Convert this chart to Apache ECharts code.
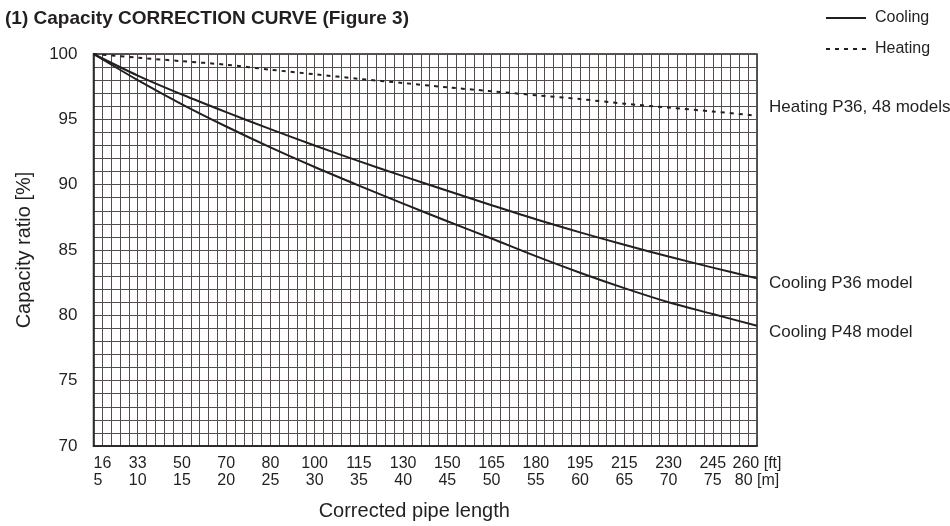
<!DOCTYPE html>
<html>
<head>
<meta charset="utf-8">
<script src="https://cdn.jsdelivr.net/npm/echarts@6/dist/echarts.min.js"></script>
<style>html,body{margin:0;padding:0;background:#fff}#c{width:950px;height:526px}</style>
</head>
<body>
<div id="c"></div>
<script>
// ---- data ----
const lengthM = [5, 10, 15, 20, 25, 30, 35, 40, 45, 50, 55, 60, 65, 70, 75, 80];
const lengthFt = ['16', '33', '50', '70', '80', '100', '115', '130', '150', '165', '180', '195', '215', '230', '245', '260'];
const coolingP36 = [100, 98.35, 96.9, 95.55, 94.25, 93.0, 91.8, 90.65, 89.53, 88.43, 87.35, 86.35, 85.4, 84.5, 83.65, 82.83];
const coolingP48 = [100, 98.0, 96.15, 94.45, 92.85, 91.35, 89.93, 88.55, 87.2, 85.88, 84.53, 83.26, 82.08, 81.0, 80.1, 79.2];
const heating = [100, 99.72, 99.45, 99.18, 98.8, 98.45, 98.1, 97.78, 97.45, 97.15, 96.85, 96.55, 96.2, 95.9, 95.6, 95.28];
const seriesLabels = ['Cooling P36 model', 'Cooling P48 model', 'Heating P36, 48 models'];
const titleText = '(1) Capacity CORRECTION CURVE (Figure 3)';

const INK = '#231f20';
const GRIDC = '#554c4c';
const FONT = '"Liberation Sans", Arial, Helvetica, sans-serif';

function pairs(ys) { return lengthM.map((x, i) => [x, ys[i]]); }

const chart = echarts.init(document.getElementById('c'), null, { renderer: 'canvas' });
chart.setOption({
  animation: false,
  backgroundColor: '#fff',
  textStyle: { fontFamily: FONT, color: INK },
  title: {
    text: titleText, left: 0, top: 4,
    textStyle: { fontFamily: FONT, fontSize: 19, fontWeight: 'bold', color: INK }
  },
  legend: {
    orient: 'vertical', left: 820, top: 5,
    itemWidth: 40, itemHeight: 14, itemGap: 15,
    data: ['Cooling', 'Heating'],
    itemStyle: { opacity: 0 },
    textStyle: { fontFamily: FONT, fontSize: 16, color: INK, padding: [0, 0, 0, 4] }
  },
  grid: {
    left: 93.5, right: 193, top: 54, bottom: 79.5,
    show: true, borderColor: INK, borderWidth: 1.5, backgroundColor: 'transparent'
  },
  xAxis: {
    type: 'value', min: 5, max: 80, interval: 5,
    name: 'Corrected pipe length', nameLocation: 'middle', nameGap: 55,
    nameTextStyle: { fontFamily: FONT, fontSize: 20, color: INK, padding: [0, 22, 0, 0] },
    axisLine: { show: true, lineStyle: { color: INK, width: 1.5 } },
    axisTick: { show: false },
    minorTick: { show: false, splitNumber: 5 },
    splitLine: { show: true, lineStyle: { color: GRIDC, width: 1 } },
    minorSplitLine: { show: true, lineStyle: { color: GRIDC, width: 1 } },
    axisLabel: {
      fontFamily: FONT, fontSize: 16, color: INK, margin: 9, lineHeight: 17,
      alignMinLabel: 'left',
      formatter: function (v) {
        const i = lengthM.indexOf(v);
        if (i < 0) return '';
        if (i === lengthM.length - 1) return lengthFt[i] + ' [ft]\n' + v + ' [m]';
        return lengthFt[i] + '\n' + v;
      }
    }
  },
  yAxis: {
    type: 'value', min: 70, max: 100, interval: 5,
    name: 'Capacity ratio [%]', nameLocation: 'middle', nameGap: 59,
    nameTextStyle: { fontFamily: FONT, fontSize: 20, color: INK },
    axisLine: { show: true, lineStyle: { color: INK, width: 1.5 } },
    axisTick: { show: false },
    minorTick: { show: false, splitNumber: 5 },
    splitLine: { show: true, lineStyle: { color: GRIDC, width: 1 } },
    minorSplitLine: { show: true, lineStyle: { color: GRIDC, width: 1 } },
    axisLabel: { fontFamily: FONT, fontSize: 17, color: INK, margin: 16 }
  },
  series: [
    {
      name: 'Cooling', type: 'line', data: pairs(coolingP36), smooth: 0.3,
      symbol: 'none', lineStyle: { color: INK, width: 2 }, itemStyle: { color: INK },
      endLabel: { show: true, formatter: seriesLabels[0], fontFamily: FONT, fontSize: 17, color: INK, distance: 12, offset: [0, 5] }
    },
    {
      name: 'Cooling', type: 'line', data: pairs(coolingP48), smooth: 0.3,
      symbol: 'none', lineStyle: { color: INK, width: 2 }, itemStyle: { color: INK },
      endLabel: { show: true, formatter: seriesLabels[1], fontFamily: FONT, fontSize: 17, color: INK, distance: 12, offset: [0, 7] }
    },
    {
      name: 'Heating', type: 'line', data: pairs(heating), smooth: 0.3,
      symbol: 'none', lineStyle: { color: INK, width: 2, type: [4, 5] }, itemStyle: { color: INK },
      endLabel: { show: true, formatter: seriesLabels[2], fontFamily: FONT, fontSize: 17, color: INK, distance: 12, offset: [0, -8] }
    }
  ]
});
</script>
</body>
</html>
